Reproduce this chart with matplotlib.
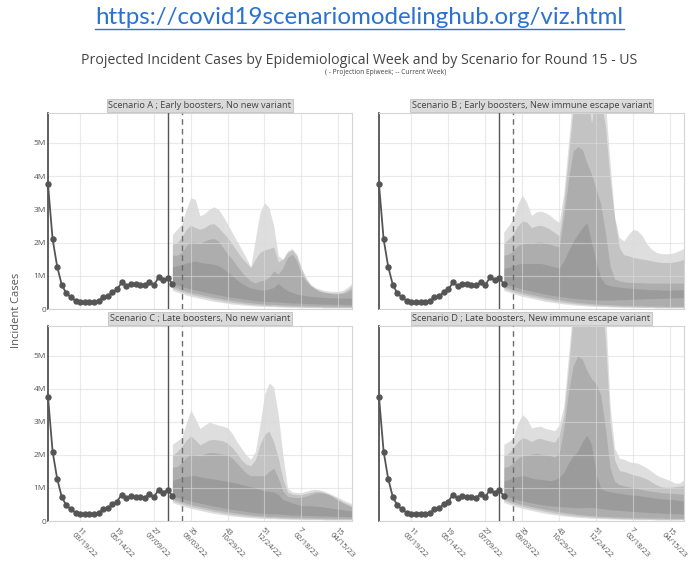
import matplotlib
matplotlib.use("Agg")
import matplotlib.pyplot as plt
from matplotlib.lines import Line2D

plt.rcParams['font.family'] = ['Open Sans', 'DejaVu Sans']

# ---------------- data (cases in millions) ----------------
obs_weeks = list(range(4, 32))
obs_cases = [3.75, 2.10, 1.27, 0.72, 0.47, 0.35, 0.25, 0.22, 0.21, 0.21,
             0.22, 0.25, 0.35, 0.39, 0.50, 0.59, 0.80, 0.70, 0.76, 0.74,
             0.73, 0.71, 0.81, 0.72, 0.95, 0.86, 0.94, 0.76]

proj_weeks = list(range(31, 71))

A_u95 = [2.25, 2.40, 2.55, 3.00, 3.35, 3.30, 2.80, 2.88, 3.00, 3.08,
         3.00, 2.80, 2.55, 2.30, 2.05, 1.80, 1.55, 1.27, 2.10, 2.90,
         3.20, 3.05, 2.50, 1.60, 1.50, 1.75, 1.82, 1.65, 1.25, 0.95,
         0.75, 0.65, 0.60, 0.56, 0.54, 0.53, 0.53, 0.56, 0.65, 0.78]
A_u90 = [1.95, 2.00, 2.15, 2.40, 2.52, 2.45, 2.40, 2.45, 2.55, 2.57,
         2.45, 2.30, 2.15, 1.95, 1.75, 1.55, 1.40, 1.25, 1.50, 1.70,
         1.78, 1.82, 1.87, 1.42, 1.50, 1.70, 1.78, 1.60, 1.20, 0.90,
         0.72, 0.62, 0.55, 0.51, 0.49, 0.48, 0.48, 0.50, 0.58, 0.70]
A_u80 = [1.62, 1.62, 1.70, 1.90, 2.02, 2.00, 1.97, 2.05, 2.10, 2.12,
         2.05, 1.85, 1.65, 1.50, 1.30, 1.12, 0.97, 0.85, 0.78, 0.85,
         0.87, 0.95, 1.15, 1.05, 1.25, 1.55, 1.65, 1.45, 1.05, 0.85,
         0.70, 0.60, 0.53, 0.50, 0.48, 0.46, 0.46, 0.47, 0.52, 0.60]
A_u50 = [1.27, 1.30, 1.33, 1.38, 1.42, 1.44, 1.40, 1.38, 1.37, 1.35,
         1.30, 1.22, 1.12, 1.00, 0.88, 0.78, 0.70, 0.63, 0.60, 0.58,
         0.57, 0.60, 0.65, 0.77, 0.65, 0.55, 0.50, 0.45, 0.42, 0.40,
         0.38, 0.37, 0.36, 0.35, 0.34, 0.34, 0.33, 0.33, 0.33, 0.33]

B_u95 = [2.32, 2.50, 2.70, 3.15, 3.43, 3.20, 2.82, 2.92, 2.95, 2.90,
         2.82, 2.70, 2.60, 3.50, 5.00, 6.50, 7.50, 8.00, 8.00, 7.50,
         7.50, 7.00, 6.20, 4.40, 2.75, 2.15, 2.05, 2.25, 2.40, 2.35,
         2.20, 1.95, 1.80, 1.70, 1.67, 1.66, 1.67, 1.70, 1.76, 1.83]
B_u90 = [1.97, 2.10, 2.25, 2.50, 2.65, 2.62, 2.45, 2.50, 2.52, 2.47,
         2.40, 2.30, 2.20, 3.20, 4.60, 6.00, 7.00, 7.20, 6.50, 5.60,
         6.50, 6.30, 5.50, 3.90, 2.74, 1.85, 1.63, 1.60, 1.55, 1.53,
         1.50, 1.48, 1.45, 1.42, 1.40, 1.40, 1.40, 1.42, 1.45, 1.50]
B_u80 = [1.62, 1.65, 1.75, 1.90, 1.97, 1.98, 1.97, 2.00, 2.02, 1.98,
         1.95, 1.90, 1.87, 2.80, 3.90, 4.75, 4.89, 4.80, 4.40, 4.05,
         3.60, 3.15, 2.30, 1.30, 0.90, 0.85, 0.82, 0.80, 0.80, 0.79,
         0.79, 0.78, 0.78, 0.78, 0.78, 0.78, 0.78, 0.78, 0.78, 0.78]
B_u50 = [1.22, 1.25, 1.30, 1.35, 1.37, 1.37, 1.37, 1.37, 1.37, 1.34,
         1.30, 1.27, 1.23, 1.45, 1.75, 2.03, 2.25, 2.45, 2.60, 2.00,
         1.40, 0.93, 0.75, 0.70, 0.68, 0.66, 0.64, 0.63, 0.62, 0.61,
         0.60, 0.59, 0.58, 0.58, 0.57, 0.57, 0.57, 0.57, 0.58, 0.58]

C_u95 = [2.32, 2.42, 2.52, 2.95, 3.36, 3.10, 2.80, 2.90, 2.99, 2.95,
         2.90, 2.87, 2.82, 2.65, 2.40, 2.20, 2.00, 1.87, 2.10, 2.90,
         3.83, 4.18, 4.05, 3.20, 2.00, 1.00, 0.88, 0.86, 0.86, 0.90,
         0.94, 0.96, 0.94, 0.90, 0.84, 0.78, 0.72, 0.64, 0.58, 0.52]
C_u90 = [1.97, 2.10, 2.25, 2.45, 2.57, 2.45, 2.30, 2.38, 2.45, 2.47,
         2.45, 2.42, 2.35, 2.22, 2.05, 1.85, 1.72, 1.67, 1.85, 2.30,
         2.62, 2.72, 2.40, 1.90, 1.27, 0.88, 0.82, 0.80, 0.80, 0.83,
         0.87, 0.90, 0.90, 0.86, 0.81, 0.74, 0.66, 0.58, 0.52, 0.46]
C_u80 = [1.62, 1.65, 1.75, 1.92, 2.02, 2.00, 1.97, 2.03, 2.07, 2.07,
         2.05, 2.02, 2.00, 1.90, 1.75, 1.60, 1.45, 1.37, 1.37, 1.37,
         1.37, 1.50, 1.60, 1.30, 0.90, 0.75, 0.72, 0.71, 0.72, 0.75,
         0.80, 0.85, 0.86, 0.84, 0.80, 0.72, 0.63, 0.55, 0.48, 0.42]
C_u50 = [1.22, 1.27, 1.32, 1.35, 1.37, 1.37, 1.34, 1.31, 1.29, 1.27,
         1.25, 1.22, 1.20, 1.17, 1.14, 1.10, 1.07, 1.04, 1.00, 0.95,
         0.91, 0.90, 0.88, 0.80, 0.65, 0.60, 0.55, 0.50, 0.47, 0.46,
         0.46, 0.45, 0.44, 0.42, 0.40, 0.38, 0.36, 0.34, 0.32, 0.31]

D_u95 = [2.32, 2.40, 2.50, 2.95, 3.22, 3.10, 2.82, 2.85, 2.87, 2.80,
         2.77, 2.73, 2.90, 3.50, 5.00, 6.50, 7.50, 8.00, 8.00, 8.00,
         8.00, 7.50, 6.50, 3.50, 2.20, 1.90, 1.87, 1.80, 1.77, 1.75,
         1.68, 1.60, 1.50, 1.40, 1.33, 1.28, 1.22, 1.15, 1.15, 1.25]
D_u90 = [1.97, 2.05, 2.20, 2.40, 2.52, 2.48, 2.40, 2.48, 2.50, 2.45,
         2.42, 2.38, 2.60, 3.20, 4.60, 6.20, 7.50, 7.80, 7.80, 7.80,
         7.80, 7.00, 5.50, 3.00, 1.85, 1.52, 1.50, 1.45, 1.40, 1.37,
         1.32, 1.27, 1.18, 1.10, 1.04, 1.02, 1.02, 1.04, 1.06, 1.07]
D_u80 = [1.62, 1.65, 1.75, 1.90, 1.97, 2.00, 2.02, 2.05, 2.02, 2.00,
         1.98, 1.93, 2.05, 2.80, 3.90, 4.70, 4.99, 4.90, 4.55, 4.30,
         4.15, 3.80, 2.80, 1.60, 1.20, 1.10, 1.07, 1.04, 1.01, 0.98,
         0.95, 0.92, 0.90, 0.88, 0.86, 0.85, 0.84, 0.83, 0.82, 0.81]
D_u50 = [1.22, 1.25, 1.30, 1.35, 1.37, 1.35, 1.30, 1.27, 1.26, 1.24,
         1.22, 1.25, 1.32, 1.48, 1.75, 1.97, 2.10, 2.40, 2.60, 2.30,
         1.40, 0.98, 0.92, 0.88, 0.86, 0.84, 0.82, 0.80, 0.78, 0.77,
         0.75, 0.73, 0.71, 0.69, 0.67, 0.66, 0.65, 0.64, 0.62, 0.61]

AC_l50 = [0.77, 0.72, 0.68, 0.64, 0.60, 0.57, 0.54, 0.51, 0.48, 0.45,
          0.43, 0.40, 0.37, 0.35, 0.33, 0.31, 0.29, 0.27, 0.25, 0.24,
          0.23, 0.22, 0.22, 0.21, 0.20, 0.19, 0.18, 0.18, 0.17, 0.17,
          0.16, 0.16, 0.15, 0.15, 0.15, 0.14, 0.14, 0.14, 0.13, 0.13]
B_l50 = [0.77, 0.72, 0.68, 0.64, 0.60, 0.57, 0.54, 0.51, 0.48, 0.45,
         0.42, 0.40, 0.38, 0.36, 0.34, 0.32, 0.31, 0.30, 0.29, 0.28,
         0.27, 0.27, 0.27, 0.27, 0.27, 0.28, 0.28, 0.29, 0.29, 0.30,
         0.30, 0.31, 0.31, 0.32, 0.32, 0.33, 0.33, 0.34, 0.34, 0.35]
D_l50 = [0.77, 0.72, 0.68, 0.64, 0.61, 0.58, 0.55, 0.52, 0.50, 0.48,
         0.46, 0.45, 0.44, 0.43, 0.42, 0.41, 0.40, 0.40, 0.41, 0.41,
         0.40, 0.38, 0.36, 0.34, 0.33, 0.32, 0.31, 0.30, 0.29, 0.28,
         0.27, 0.26, 0.25, 0.25, 0.24, 0.23, 0.23, 0.22, 0.22, 0.21]
lower_80 = [0.68, 0.63, 0.58, 0.54, 0.50, 0.47, 0.44, 0.41, 0.38, 0.35,
            0.33, 0.30, 0.28, 0.26, 0.24, 0.22, 0.20, 0.19, 0.17, 0.16,
            0.15, 0.14, 0.14, 0.13, 0.12, 0.12, 0.11, 0.11, 0.10, 0.10,
            0.10, 0.09, 0.09, 0.09, 0.09, 0.08, 0.08, 0.08, 0.08, 0.08]
lower_90 = [0.62, 0.57, 0.52, 0.48, 0.44, 0.41, 0.38, 0.35, 0.32, 0.29,
            0.27, 0.24, 0.22, 0.20, 0.18, 0.17, 0.15, 0.14, 0.13, 0.12,
            0.11, 0.10, 0.10, 0.09, 0.08, 0.08, 0.07, 0.07, 0.07, 0.06,
            0.06, 0.06, 0.06, 0.05, 0.05, 0.05, 0.05, 0.05, 0.05, 0.05]
lower_95 = [0.56, 0.51, 0.46, 0.42, 0.38, 0.35, 0.32, 0.29, 0.26, 0.23,
            0.21, 0.19, 0.17, 0.15, 0.14, 0.12, 0.11, 0.10, 0.09, 0.08,
            0.08, 0.07, 0.07, 0.06, 0.06, 0.05, 0.05, 0.05, 0.04, 0.04,
            0.04, 0.04, 0.04, 0.03, 0.03, 0.03, 0.03, 0.03, 0.03, 0.03]

scenario_titles = ["Scenario A ; Early boosters, No new variant",
                   "Scenario B ; Early boosters, New immune escape variant",
                   "Scenario C ; Late boosters, No new variant",
                   "Scenario D ; Late boosters, New immune escape variant"]

tick_weeks = [11, 19, 27, 35, 43, 51, 59, 67]
tick_labels = ["11\n03/19/22", "19\n05/14/22", "27\n07/09/22", "35\n09/03/22",
               "43\n10/29/22", "51\n12/24/22", "7\n02/18/23", "15\n04/15/23"]
ytick_vals = [0, 1, 2, 3, 4, 5]
ytick_labels = ["0", "1M", "2M", "3M", "4M", "5M"]

projection_week = 30
current_week = 33

panels = [
    (A_u95, A_u90, A_u80, A_u50, AC_l50),
    (B_u95, B_u90, B_u80, B_u50, B_l50),
    (C_u95, C_u90, C_u80, C_u50, AC_l50),
    (D_u95, D_u90, D_u80, D_u50, D_l50),
]

# ---------------- figure ----------------
W, H = 688, 561
fig = plt.figure(figsize=(W / 100, H / 100), dpi=100)

def px_axes(x0, y0, x1, y1):
    return fig.add_axes([x0 / W, 1 - y1 / H, (x1 - x0) / W, (y1 - y0) / H])

boxes = [(48, 113, 352, 309), (379, 113, 684, 309),
         (48, 326, 352, 521), (379, 326, 684, 521)]

band_rgb = (0.30, 0.30, 0.30)
band_alpha = 0.18

for i, (box, title, series) in enumerate(zip(boxes, scenario_titles, panels)):
    ax = px_axes(*box)
    u95, u90, u80, u50, l50 = series
    for lo, hi in [(lower_95, u95), (lower_90, u90), (lower_80, u80), (l50, u50)]:
        ax.fill_between(proj_weeks, lo, hi, color=band_rgb, alpha=band_alpha,
                        linewidth=0)
    ax.plot(obs_weeks, obs_cases, color='#555555', lw=1.3, marker='o',
            markersize=3.6, zorder=3, clip_on=False)
    ax.axvline(projection_week, color='#555555', lw=1.0, zorder=2.6)
    ax.axvline(current_week, color='#6e6e6e', lw=1.0, dashes=(4, 3), zorder=2.6)

    ax.set_xlim(4, 70)
    ax.set_ylim(0, 5.9)
    ax.set_axisbelow('line')
    ax.grid(True, color='#dcdcdc', alpha=0.6, lw=0.8)
    ax.set_xticks(tick_weeks)
    ax.set_yticks(ytick_vals)
    ax.tick_params(length=0, labelsize=6.0, colors='#555555', pad=1.5)
    if i in (0, 2):
        ax.set_yticklabels(ytick_labels)
    else:
        ax.set_yticklabels([])
    if i >= 2:
        ax.set_xticklabels(tick_labels, rotation=-45, ha='left', va='top',
                           rotation_mode='anchor', fontsize=5.6,
                           color='#555555', linespacing=1.1)
        ax.tick_params(axis='x', pad=4)
    else:
        ax.set_xticklabels([])
    for side in ['top', 'right', 'bottom']:
        ax.spines[side].set_color('#d4d4d4')
        ax.spines[side].set_linewidth(0.8)
    ax.spines['left'].set_color('#444444')
    ax.spines['left'].set_linewidth(1.2)

    ax.annotate(title, xy=(0.5, 1.0), xycoords='axes fraction',
                xytext=(0, 2.0), textcoords='offset points',
                ha='center', va='bottom', fontsize=6.7, color='#444444',
                bbox=dict(boxstyle='square,pad=0.2', facecolor='#dadada',
                          edgecolor='#c2c2c2', linewidth=0.6))

# ---------------- titles ----------------
url = fig.text(359.5 / W, 1 - 18 / H, "https://covid19scenariomodelinghub.org/viz.html",
               ha='center', va='center', fontsize=17.4, color='#2A72D2',
               family=['Lato', 'DejaVu Sans'])
fig.canvas.draw()
bb = url.get_window_extent(renderer=fig.canvas.get_renderer())
uy = (bb.y0 - 0.5) / H
fig.add_artist(Line2D([bb.x0 / W, bb.x1 / W], [uy, uy], color='#2A72D2', lw=1.0))

fig.text(359 / W, 1 - 60 / H,
         "Projected Incident Cases by Epidemiological Week and by Scenario for Round 15 - US",
         ha='center', va='center', fontsize=10.2, color='#444444')
fig.text(386 / W, 1 - 73 / H, "( - Projection Epiweek; -- Current Week)",
         ha='center', va='center', fontsize=4.8, color='#444444')
fig.text(17 / W, 1 - 310 / H, "Incident Cases", rotation=90,
         ha='center', va='center', fontsize=8.0, color='#555555')

fig.savefig("out.png", dpi=100)
